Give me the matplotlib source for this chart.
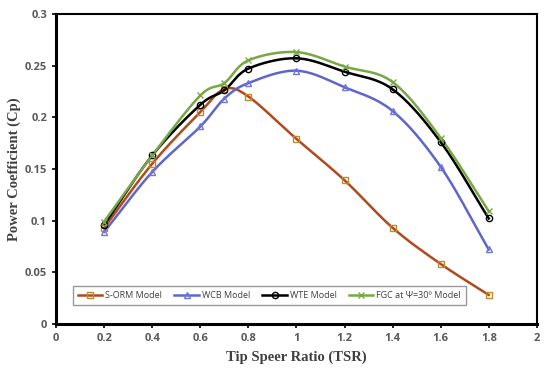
import numpy as np
import matplotlib
matplotlib.use("Agg")
import matplotlib.pyplot as plt

tsr = [0.2, 0.4, 0.6, 0.7, 0.8, 1.0, 1.2, 1.4, 1.6, 1.8]
sorm = [0.093, 0.155, 0.205, 0.227, 0.220, 0.179, 0.139, 0.093, 0.058, 0.028]
wcb = [0.089, 0.147, 0.191, 0.218, 0.233, 0.245, 0.229, 0.206, 0.152, 0.072]
wte = [0.096, 0.163, 0.212, 0.226, 0.247, 0.257, 0.244, 0.227, 0.176, 0.102]
fgc = [0.099, 0.163, 0.221, 0.233, 0.255, 0.263, 0.249, 0.234, 0.180, 0.109]
labels = ["S-ORM Model", "WCB Model", "WTE Model", "FGC at \u03a8=30\u00ba Model"]
xticks = [0, 0.2, 0.4, 0.6, 0.8, 1, 1.2, 1.4, 1.6, 1.8, 2]
yticks = [0, 0.05, 0.1, 0.15, 0.2, 0.25, 0.3]


def smooth(x, y, n=20):
    # Catmull-Rom style smoothing of the drawn path (like Excel smoothed lines)
    x = np.asarray(x, float); y = np.asarray(y, float)
    px = np.concatenate([[2 * x[0] - x[1]], x, [2 * x[-1] - x[-2]]])
    py = np.concatenate([[2 * y[0] - y[1]], y, [2 * y[-1] - y[-2]]])
    xs, ys = [], []
    t = np.linspace(0, 1, n)
    for i in range(1, len(px) - 2):
        p0, p1, p2, p3 = [np.array([px[j], py[j]]) for j in (i - 1, i, i + 1, i + 2)]
        t2 = t * t; t3 = t2 * t
        pts = 0.5 * ((2 * p1)[:, None] + (-p0 + p2)[:, None] * t
                     + (2 * p0 - 5 * p1 + 4 * p2 - p3)[:, None] * t2
                     + (-p0 + 3 * p1 - 3 * p2 + p3)[:, None] * t3)
        xs.extend(pts[0]); ys.extend(pts[1])
    return xs, ys


fig = plt.figure(figsize=(5.5, 3.74), dpi=100)
ax = fig.add_axes([0.102, 0.134, 0.874, 0.829])

series = [
    (sorm, "#B04A1E", "#C08A2A", "s", 4.5),
    (wcb, "#5E66CC", "#6E76D8", "^", 5),
    (wte, "#000000", "#000000", "o", 4.5),
    (fgc, "#78A843", "#78A843", "x", 5),
]
handles = []
for (vals, lc, mc, mk, ms), lab in zip(series, labels):
    sx, sy = smooth(tsr, vals)
    ax.plot(sx, sy, color=lc, lw=1.8, zorder=2)
    ax.plot(tsr, vals, ls="none", marker=mk, ms=ms, mfc="none", mec=mc, mew=1.0, zorder=3)
    h, = ax.plot([], [], color=lc, lw=1.8, marker=mk, ms=ms, mfc="none", mec=mc, mew=1.0)
    handles.append(h)

ax.set_xlim(0, 2)
ax.set_ylim(0, 0.3)
ax.set_xticks(xticks)
ax.set_xticklabels(["0", "0.2", "0.4", "0.6", "0.8", "1", "1.2", "1.4", "1.6", "1.8", "2"])
ax.set_yticks(yticks)
ax.set_yticklabels(["0", "0.05", "0.1", "0.15", "0.2", "0.25", "0.3"])
ax.tick_params(direction="out", length=3, width=1.2, color="black",
               labelsize=8, labelcolor="#595959")
for lab in ax.get_xticklabels() + ax.get_yticklabels():
    lab.set_fontweight("bold")
    lab.set_family(["Open Sans", "DejaVu Sans"])
for s in ["left", "bottom"]:
    ax.spines[s].set_linewidth(2.2)
for s in ["top", "right"]:
    ax.spines[s].set_linewidth(1.5)

ax.set_xlabel("Tip Speer Ratio (TSR)", family=["Liberation Serif", "DejaVu Serif"],
              fontsize=10.5, fontweight="bold", color="#404040", labelpad=5)
ax.set_ylabel("Power Coefficient (Cp)", family=["Liberation Serif", "DejaVu Serif"],
              fontsize=10.5, fontweight="bold", color="#404040", labelpad=3)

leg = ax.legend(handles, labels, ncol=4, loc="lower left",
                bbox_to_anchor=(0.035, 0.062), frameon=True,
                fancybox=False, edgecolor="#808080", handlelength=2.7,
                columnspacing=1.4, handletextpad=0.3, borderpad=0.55,
                borderaxespad=0.0,
                prop={"family": ["Open Sans", "DejaVu Sans"], "size": 6.5})
leg.get_frame().set_linewidth(1.0)
for t in leg.get_texts():
    t.set_color("#404040")

fig.savefig("out.png", dpi=100)
